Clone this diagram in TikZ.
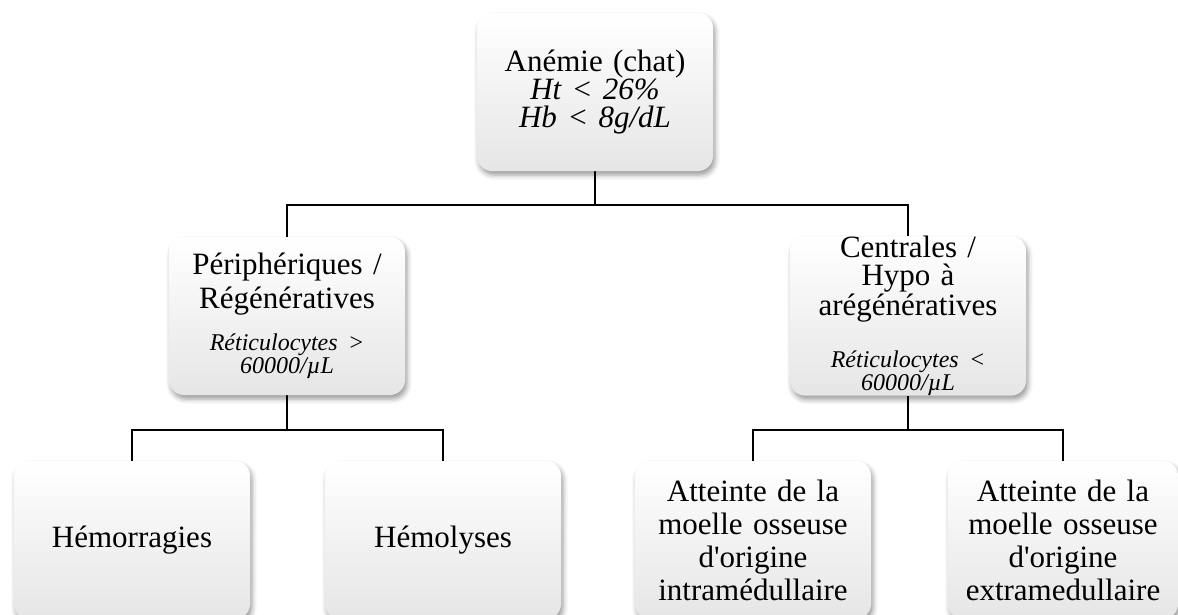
\documentclass[tikz,border=0pt]{standalone}
\usepackage{fontspec}
\setmainfont{Liberation Serif}[Ligatures=TeXOff]
\usetikzlibrary{shadows.blur,backgrounds}

\tikzset{
	boite/.style={rounded corners=15pt, minimum width=236pt, minimum height=158pt, text width=230pt, align=center, inner sep=0pt,
		top color=white, middle color=white, bottom color=gray!20,
		blur shadow={shadow xshift=2pt, shadow yshift=-4pt, shadow blur radius=5pt, shadow opacity=40},
		font=\fontsize{31}{34}\selectfont},
	lien/.style={line width=2.5pt},
}
\newcommand{\petit}[1]{{\fontsize{24}{23}\selectfont\itshape #1\par}}

\begin{document}
\begin{tikzpicture}[x=1pt, y=-1pt]
	\useasboundingbox (0,0) rectangle (1178,614);
	\node[boite, font=\fontsize{31}{28}\selectfont] (anemie) at (595,92) {An\'emie (chat)\\ \textit{Ht < 26\%}\\ \textit{Hb < 8g/dL}};
	\node[boite] (periph) at (287,316) {P\'eriph\'eriques /\\ R\'eg\'en\'eratives\par\vspace{18pt}\petit{R\'eticulocytes >\\ 60000/µL}};
	\node[boite, font=\fontsize{31}{28}\selectfont] (centr) at (908,316) {Centrales /\\ Hypo \`a\\ ar\'eg\'en\'eratives\par\vspace{28pt}\petit{R\'eticulocytes <\\ 60000/µL}};
	\node[boite] (hemorr) at (132,540) {H\'emorragies};
	\node[boite] (hemol) at (443,540) {H\'emolyses};
	\node[boite, font=\fontsize{31}{33}\selectfont] (intra) at (753,540) {Atteinte de la\\ moelle osseuse\\ d'origine\\ intram\'edullaire};
	\node[boite, minimum width=230pt, font=\fontsize{31}{33}\selectfont] (extra) at (1063,540) {Atteinte de la\\ moelle osseuse\\ d'origine\\ extramedullaire};
	% liaisons
	\coordinate (bus1) at (0,205);
	\coordinate (bus2) at (0,430);
	\begin{scope}[on background layer]
	\draw[lien] (anemie.south) -- (anemie.south |- bus1) -| (periph.north);
	\draw[lien] (anemie.south |- bus1) -| (centr.north);
	\draw[lien] (periph.south) -- (periph.south |- bus2) -| (hemorr.north);
	\draw[lien] (periph.south |- bus2) -| (hemol.north);
	\draw[lien] (centr.south) -- (centr.south |- bus2) -| (intra.north);
	\draw[lien] (centr.south |- bus2) -| (extra.north);
	\end{scope}
\end{tikzpicture}
\end{document}
